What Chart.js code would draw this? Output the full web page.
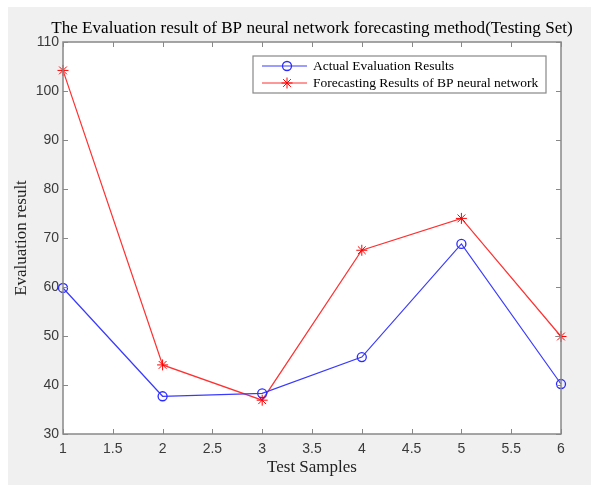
<!DOCTYPE html>
<html>
<head>
<meta charset="utf-8">
<script src="https://cdn.jsdelivr.net/npm/chart.js@4.4.1/dist/chart.umd.min.js"></script>
<style>
  html, body { margin: 0; padding: 0; background: #fff; }
  #wrap { width: 591px; height: 485px; }
</style>
</head>
<body>
<div id="wrap"><canvas id="evalChart" width="591" height="485"></canvas></div>
<script>
// Testing set: sample index vs evaluation result
const samples = [1, 2, 3, 4, 5, 6];
const actualResults = [59.8, 37.7, 38.3, 45.7, 68.8, 40.2];
const forecastResults = [104.2, 44.1, 36.9, 67.5, 74.0, 49.9];
const xTicks = [1, 1.5, 2, 2.5, 3, 3.5, 4, 4.5, 5, 5.5, 6];
const yTicks = [30, 40, 50, 60, 70, 80, 90, 100, 110];

const seriesNames = ['Actual Evaluation Results', 'Forecasting Results of BP neural network'];
const chartTitle = 'The Evaluation result of BP neural network forecasting method(Testing Set)';

const serif = '"Liberation Serif", "Times New Roman", serif';
const sans = '"Liberation Sans", Arial, sans-serif';
const axisGray = '#888888';

// MATLAB-like frame: grey figure, white axes box, inward ticks on all sides
const matlabFrame = {
  id: 'matlabFrame',
  beforeDraw(chart) {
    const { ctx, chartArea: a } = chart;
    ctx.save();
    ctx.fillStyle = '#ffffff';
    ctx.fillRect(0, 0, chart.width, chart.height);
    ctx.fillStyle = '#f0f0f0';
    ctx.fillRect(8, 7, chart.width - 8, chart.height - 7);
    ctx.fillStyle = '#ffffff';
    ctx.fillRect(a.left, a.top, a.right - a.left, a.bottom - a.top);
    // title centred over the axes, not squeezed to their width
    ctx.fillStyle = '#000000';
    ctx.font = '17.1px ' + serif;
    ctx.textAlign = 'center';
    ctx.textBaseline = 'alphabetic';
    ctx.fillText(chartTitle, (a.left + a.right) / 2, 33);
    ctx.restore();
  },
  afterDatasetsDraw(chart) {
    const { ctx, chartArea: a, scales } = chart;
    const tl = 5;
    ctx.save();
    ctx.strokeStyle = axisGray;
    ctx.lineWidth = 1;
    ctx.beginPath();
    xTicks.forEach(v => {
      const px = Math.round(scales.x.getPixelForValue(v)) + 0.5;
      ctx.moveTo(px, a.bottom); ctx.lineTo(px, a.bottom - tl);
      ctx.moveTo(px, a.top); ctx.lineTo(px, a.top + tl);
    });
    yTicks.forEach(v => {
      const py = Math.round(scales.y.getPixelForValue(v)) + 0.5;
      ctx.moveTo(a.left, py); ctx.lineTo(a.left + tl, py);
      ctx.moveTo(a.right, py); ctx.lineTo(a.right - tl, py);
    });
    ctx.stroke();
    ctx.lineWidth = 1.5;
    ctx.strokeRect(a.left, a.top, a.right - a.left, a.bottom - a.top);

    // legend box, top right inside the axes
    const box = { x: 253, y: 56, w: 293, h: 37 };
    ctx.fillStyle = '#ffffff';
    ctx.fillRect(box.x, box.y, box.w, box.h);
    ctx.lineWidth = 1.2;
    ctx.strokeStyle = axisGray;
    ctx.strokeRect(box.x, box.y, box.w, box.h);
    ctx.font = '13.5px ' + serif;
    ctx.textBaseline = 'middle';
    chart.data.datasets.forEach((ds, i) => {
      const y = box.y + 10 + i * 17;
      ctx.strokeStyle = ds.borderColor;
      ctx.lineWidth = 1;
      ctx.beginPath();
      ctx.moveTo(box.x + 9, y); ctx.lineTo(box.x + 54, y);
      ctx.stroke();
      const cx = box.x + 34;
      ctx.beginPath();
      if (ds.pointStyle === 'circle') {
        ctx.arc(cx, y, ds.pointRadius, 0, Math.PI * 2);
      } else {
        const r = ds.pointRadius;
        for (let k = 0; k < 4; k++) {
          const ang = k * Math.PI / 4;
          ctx.moveTo(cx - r * Math.cos(ang), y - r * Math.sin(ang));
          ctx.lineTo(cx + r * Math.cos(ang), y + r * Math.sin(ang));
        }
      }
      ctx.strokeStyle = ds.pointBorderColor;
      ctx.lineWidth = ds.pointBorderWidth;
      ctx.stroke();
      ctx.fillStyle = '#000000';
      ctx.fillText(ds.label, box.x + 60, y + 0.5);
    });
    ctx.restore();
  }
};

new Chart(document.getElementById('evalChart'), {
  type: 'line',
  data: {
    labels: samples,
    datasets: [
      {
        label: seriesNames[0],
        data: samples.map((s, i) => ({ x: s, y: actualResults[i] })),
        borderColor: '#3a3aff',
        borderWidth: 1.2,
        pointStyle: 'circle',
        pointRadius: 4.5,
        pointBorderWidth: 1.3,
        pointBorderColor: '#2b2bff',
        pointBackgroundColor: 'rgba(0,0,0,0)',
        tension: 0,
        clip: false
      },
      {
        label: seriesNames[1],
        data: samples.map((s, i) => ({ x: s, y: forecastResults[i] })),
        borderColor: '#ff3030',
        borderWidth: 1.2,
        pointStyle: 'star',
        pointRadius: 5.5,
        pointBorderWidth: 1,
        pointBorderColor: '#ff0000',
        pointBackgroundColor: '#ff0000',
        tension: 0,
        clip: false
      }
    ]
  },
  plugins: [matlabFrame],
  options: {
    responsive: false,
    animation: false,
    layout: { padding: { left: 0, right: 30, top: 42, bottom: 0 } },
    plugins: {
      legend: { display: false },
      tooltip: { enabled: false },
      title: { display: false }
    },
    scales: {
      x: {
        type: 'linear',
        min: 1,
        max: 6,
        afterBuildTicks: s => { s.ticks = xTicks.map(v => ({ value: v })); },
        afterFit: s => { s.height = 51; },
        grid: { display: false, drawTicks: false },
        border: { display: false },
        ticks: {
          color: '#3a3a3a',
          font: { family: sans, size: 14 },
          padding: 7,
          maxRotation: 0,
          autoSkip: false,
          callback: v => String(v)
        },
        title: {
          display: true,
          text: 'Test Samples',
          color: '#222222',
          font: { family: serif, size: 17, weight: 'normal', lineHeight: 1.2 },
          padding: { top: 0, bottom: 7 }
        }
      },
      y: {
        min: 30,
        max: 110,
        afterBuildTicks: s => { s.ticks = yTicks.map(v => ({ value: v })); },
        afterFit: s => { s.width = 63; },
        grid: { display: false, drawTicks: false },
        border: { display: false },
        ticks: {
          color: '#3a3a3a',
          font: { family: sans, size: 14 },
          padding: 4,
          autoSkip: false,
          callback: v => String(v)
        },
        title: {
          display: true,
          text: 'Evaluation result',
          color: '#222222',
          font: { family: serif, size: 17, weight: 'normal', lineHeight: 1.2 },
          padding: { top: 11, bottom: 0 }
        }
      }
    }
  }
});
</script>
</body>
</html>
